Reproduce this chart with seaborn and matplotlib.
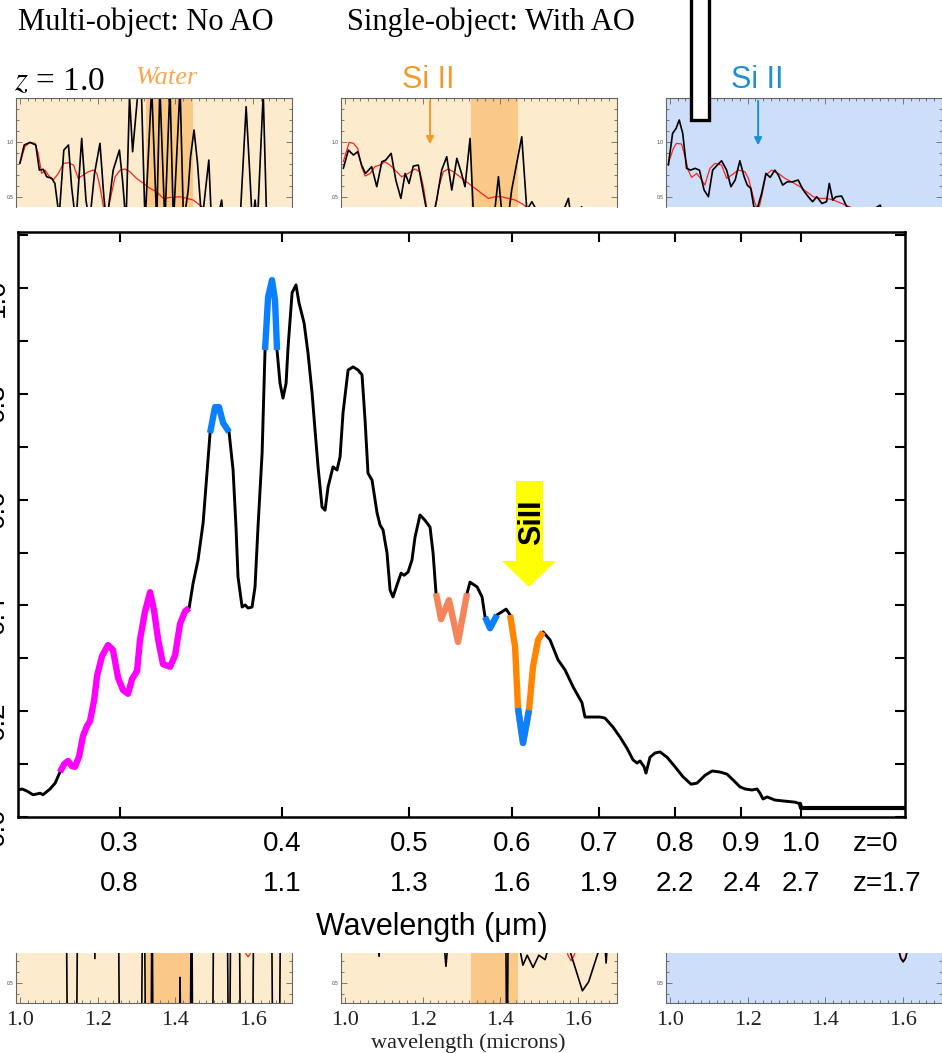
import numpy as np
import matplotlib
matplotlib.use("Agg")
import matplotlib.pyplot as plt
import seaborn as sns
from matplotlib.patches import Polygon, Rectangle
from matplotlib.ticker import FixedLocator, NullLocator, MultipleLocator

# ---------------- main spectrum (rest wavelength, microns) ----------------
wavelength = [0.2507, 0.2525, 0.2547, 0.2575, 0.2607, 0.2620, 0.2653, 0.2677, 0.2700, 0.2720,
              0.2739, 0.2758, 0.2773, 0.2793, 0.2812, 0.2832, 0.2847, 0.2868, 0.2883, 0.2908,
              0.2939, 0.2965, 0.2992, 0.3018, 0.3045, 0.3067, 0.3094, 0.3110, 0.3138, 0.3166,
              0.3188, 0.3211, 0.3239, 0.3280, 0.3309, 0.3338, 0.3368, 0.3392, 0.3416, 0.3446,
              0.3477, 0.3501, 0.3520, 0.3551, 0.3576, 0.3602, 0.3640, 0.3666, 0.3685, 0.3698,
              0.3725, 0.3745, 0.3764, 0.3791, 0.3811, 0.3831, 0.3859, 0.3879, 0.3900, 0.3927,
              0.3948, 0.3962, 0.3983, 0.4004, 0.4026, 0.4040, 0.4069, 0.4097, 0.4119, 0.4156,
              0.4185, 0.4215, 0.4237, 0.4260, 0.4290, 0.4313, 0.4336, 0.4374, 0.4405, 0.4429,
              0.4452, 0.4492, 0.4532, 0.4572, 0.4604, 0.4629, 0.4653, 0.4686, 0.4728, 0.4753,
              0.4778, 0.4812, 0.4838, 0.4863, 0.4898, 0.4933, 0.4959, 0.4994, 0.5029, 0.5056,
              0.5101, 0.5146, 0.5192, 0.5220, 0.5247, 0.5294, 0.5369, 0.5455, 0.5543, 0.5572,
              0.5642, 0.5692, 0.5722, 0.5773, 0.5844, 0.5896, 0.5939, 0.5981, 0.6034, 0.6065,
              0.6119, 0.6184, 0.6228, 0.6284, 0.6339, 0.6418, 0.6510, 0.6591, 0.6685, 0.6791,
              0.6827, 0.6912, 0.7011, 0.7073, 0.7173, 0.7263, 0.7353, 0.7432, 0.7485, 0.7524,
              0.7578, 0.7604, 0.7658, 0.7726, 0.7795, 0.7892, 0.8004, 0.8118, 0.8234, 0.8321,
              0.8442, 0.8547, 0.8667, 0.8775, 0.8869, 0.8978, 0.9058, 0.9171, 0.9253, 0.9301,
              0.9351, 0.9418, 0.9551, 0.9721, 0.9895, 0.9982]
flux = [0.051, 0.053, 0.049, 0.042, 0.045, 0.042, 0.053, 0.064, 0.085, 0.100,
        0.106, 0.096, 0.095, 0.115, 0.153, 0.172, 0.181, 0.221, 0.267, 0.304,
        0.325, 0.316, 0.263, 0.240, 0.233, 0.261, 0.276, 0.335, 0.389, 0.425,
        0.391, 0.336, 0.289, 0.284, 0.306, 0.365, 0.389, 0.395, 0.442, 0.486,
        0.556, 0.650, 0.726, 0.775, 0.775, 0.745, 0.728, 0.656, 0.548, 0.454,
        0.397, 0.401, 0.395, 0.397, 0.435, 0.548, 0.688, 0.883, 0.983, 1.015,
        0.977, 0.883, 0.820, 0.792, 0.820, 0.888, 0.991, 1.006, 0.972, 0.934,
        0.877, 0.802, 0.732, 0.662, 0.586, 0.580, 0.624, 0.662, 0.656, 0.681,
        0.764, 0.845, 0.851, 0.845, 0.836, 0.750, 0.650, 0.637, 0.575, 0.552,
        0.543, 0.499, 0.429, 0.416, 0.439, 0.461, 0.457, 0.463, 0.486, 0.529,
        0.571, 0.561, 0.548, 0.499, 0.423, 0.374, 0.410, 0.331, 0.423, 0.444,
        0.435, 0.416, 0.378, 0.357, 0.382, 0.388, 0.393, 0.382, 0.321, 0.206,
        0.140, 0.202, 0.284, 0.335, 0.350, 0.335, 0.297, 0.278, 0.246, 0.216,
        0.189, 0.189, 0.189, 0.187, 0.170, 0.151, 0.130, 0.108, 0.102, 0.106,
        0.095, 0.083, 0.113, 0.121, 0.123, 0.113, 0.095, 0.076, 0.062, 0.064,
        0.079, 0.087, 0.085, 0.081, 0.070, 0.057, 0.053, 0.051, 0.053, 0.045,
        0.034, 0.038, 0.032, 0.030, 0.028, 0.025]
tail_wavelength = [0.9982, 1.0, 1.21]
tail_flux = [0.025, 0.017, 0.017]

# highlighted features: (start, end, colour)
seg_start = [0.2700, 0.3520, 0.3879, 0.5247, 0.5722, 0.5981, 0.6065]
seg_end = [0.3392, 0.3640, 0.3962, 0.5543, 0.5844, 0.6339, 0.6184]
seg_color = ["#FF00FF", "#0A80FF", "#0A80FF", "#F5845A", "#0A80FF", "#FF8400", "#0A80FF"]

xtick_rest = [0.3, 0.4, 0.5, 0.6, 0.7, 0.8, 0.9, 1.0]
xtick_z17 = ["0.8", "1.1", "1.3", "1.6", "1.9", "2.2", "2.4", "2.7"]
ytick_vals = [0.0, 0.1, 0.2, 0.3, 0.4, 0.5, 0.6, 0.7, 0.8, 0.9, 1.0, 1.1]
ytick_labels = ["0.0", "", "0.2", "", "0.4", "", "0.6", "", "0.8", "", "1.0", ""]

# ---------------- inset spectra (observed wavelength, microns) ----------------
p1_black_wl = [1.000, 1.011, 1.026, 1.041, 1.050, 1.060, 1.069, 1.082, 1.090, 1.101,
               1.113, 1.125, 1.133, 1.144, 1.159, 1.170, 1.179, 1.192, 1.206, 1.216,
               1.223, 1.240, 1.256, 1.264, 1.273, 1.282, 1.290, 1.298, 1.305, 1.313,
               1.322, 1.339, 1.352, 1.360, 1.373, 1.386, 1.395, 1.412, 1.421, 1.433,
               1.439, 1.448, 1.457, 1.468, 1.486, 1.493, 1.506, 1.519, 1.525, 1.549,
               1.566, 1.582, 1.590, 1.598, 1.605, 1.611, 1.626, 1.635, 1.661, 1.695]
p1_black = [0.806, 0.973, 0.997, 0.973, 0.745, 0.752, 0.685, 0.670, 0.624, 0.321,
            0.927, 0.973, 0.594, 0.261, 1.033, 0.473, 0.261, 0.715, 0.988, 0.503,
            0.261, 0.745, 0.927, 0.655, 0.261, 1.412, 0.912, 1.230, 1.503, 1.412,
            0.261, 1.503, 0.261, 1.503, 0.261, 1.503, 0.261, 1.503, 0.261, 0.564,
            0.867, 1.109, 0.806, 0.261, 0.836, 0.261, 0.261, 0.473, 0.261, 0.200,
            0.261, 1.321, 0.806, 0.261, 0.473, 0.261, 1.442, 0.261, 0.200, 0.200]
p1_red_wl = [1.000, 1.013, 1.026, 1.039, 1.047, 1.056, 1.065, 1.073, 1.086, 1.099,
             1.112, 1.125, 1.138, 1.150, 1.163, 1.176, 1.189, 1.198, 1.206, 1.215,
             1.223, 1.232, 1.245, 1.258, 1.270, 1.283, 1.300, 1.318, 1.335, 1.352,
             1.369, 1.386, 1.412, 1.429, 1.446, 1.463, 1.481]
p1_red = [0.806, 0.958, 0.997, 0.988, 0.897, 0.715, 0.745, 0.700, 0.655, 0.715,
          0.806, 0.812, 0.791, 0.670, 0.700, 0.730, 0.745, 0.715, 0.594, 0.412,
          0.321, 0.473, 0.685, 0.745, 0.755, 0.730, 0.670, 0.624, 0.579, 0.548,
          0.488, 0.497, 0.503, 0.488, 0.473, 0.427, 0.382]

p2_black_wl = [0.996, 1.009, 1.022, 1.033, 1.043, 1.053, 1.069, 1.082, 1.095, 1.105,
               1.119, 1.131, 1.144, 1.155, 1.165, 1.176, 1.189, 1.199, 1.210, 1.223,
               1.236, 1.249, 1.262, 1.275, 1.288, 1.300, 1.309, 1.322, 1.330, 1.343,
               1.356, 1.369, 1.382, 1.395, 1.403, 1.416, 1.429, 1.442, 1.455, 1.468,
               1.481, 1.493, 1.523, 1.541, 1.549, 1.575, 1.584, 1.609, 1.617, 1.660]
p2_black = [0.761, 0.927, 0.882, 0.912, 0.791, 0.715, 0.776, 0.594, 0.821, 0.836,
            0.897, 0.655, 0.488, 0.715, 0.624, 0.782, 0.791, 0.594, 0.382, 0.261,
            0.473, 0.745, 0.867, 0.564, 0.852, 0.715, 0.594, 1.033, 0.382, 0.261,
            0.382, 0.200, 0.261, 0.685, 0.382, 0.200, 0.564, 0.806, 1.048, 0.382,
            0.458, 0.382, 0.261, 0.397, 0.261, 0.488, 0.261, 0.412, 0.261, 0.200]
p2_red_wl = [0.996, 1.011, 1.022, 1.033, 1.043, 1.052, 1.065, 1.077, 1.090, 1.103,
             1.116, 1.129, 1.146, 1.163, 1.180, 1.193, 1.202, 1.210, 1.219, 1.232,
             1.242, 1.253, 1.266, 1.279, 1.296, 1.318, 1.335, 1.352, 1.369, 1.386,
             1.403, 1.421, 1.438, 1.455, 1.472, 1.506]
p2_red = [0.821, 0.997, 0.988, 0.942, 0.776, 0.691, 0.715, 0.776, 0.791, 0.821,
          0.791, 0.745, 0.685, 0.715, 0.755, 0.730, 0.594, 0.412, 0.291, 0.382,
          0.594, 0.730, 0.755, 0.730, 0.685, 0.624, 0.579, 0.533, 0.488, 0.503,
          0.503, 0.488, 0.473, 0.442, 0.397, 0.321]

p3_black_wl = [0.996, 1.007, 1.016, 1.024, 1.033, 1.043, 1.053, 1.065, 1.076, 1.088,
               1.099, 1.110, 1.122, 1.133, 1.146, 1.157, 1.168, 1.180, 1.191, 1.199,
               1.208, 1.216, 1.225, 1.236, 1.247, 1.258, 1.270, 1.279, 1.290, 1.302,
               1.316, 1.330, 1.343, 1.356, 1.367, 1.378, 1.391, 1.403, 1.410, 1.419,
               1.427, 1.442, 1.455, 1.472, 1.506, 1.541, 1.545, 1.575]
p3_black = [0.791, 1.079, 1.124, 1.200, 1.079, 0.761, 0.745, 0.761, 0.745, 0.564,
            0.503, 0.745, 0.791, 0.830, 0.745, 0.594, 0.655, 0.830, 0.685, 0.609,
            0.579, 0.412, 0.397, 0.533, 0.715, 0.679, 0.745, 0.700, 0.609, 0.639,
            0.639, 0.655, 0.564, 0.503, 0.458, 0.503, 0.442, 0.458, 0.624, 0.473,
            0.503, 0.509, 0.412, 0.382, 0.352, 0.427, 0.382, 0.321]
p3_red_wl = [0.996, 1.009, 1.017, 1.030, 1.039, 1.047, 1.056, 1.069, 1.082, 1.090,
             1.103, 1.116, 1.133, 1.146, 1.159, 1.176, 1.193, 1.202, 1.210, 1.219,
             1.228, 1.236, 1.247, 1.262, 1.279, 1.296, 1.313, 1.335, 1.352, 1.369,
             1.386, 1.403, 1.421, 1.442, 1.463, 1.489]
p3_red = [0.806, 0.942, 0.988, 0.982, 0.867, 0.745, 0.679, 0.715, 0.655, 0.609,
          0.761, 0.806, 0.791, 0.670, 0.700, 0.745, 0.730, 0.670, 0.564, 0.442,
          0.382, 0.503, 0.700, 0.745, 0.715, 0.670, 0.639, 0.594, 0.548, 0.503,
          0.488, 0.488, 0.473, 0.442, 0.412, 0.352]

# lower row of insets
b1_black_wl = [1.000, 1.119, 1.123, 1.145, 1.149, 1.190, 1.193, 1.196, 1.253, 1.257,
               1.312, 1.316, 1.320, 1.324, 1.337, 1.340, 1.343, 1.409, 1.412, 1.415,
               1.438, 1.441, 1.442, 1.445, 1.495, 1.499, 1.533, 1.537, 1.539, 1.543,
               1.564, 1.568, 1.598, 1.602, 1.647, 1.651, 1.667, 1.671, 1.700]
b1_black = [1.5, 1.5, -0.5, -0.5, 1.5, 1.5, 0.72, 1.5, 1.5, -0.5,
            -0.5, 1.5, 1.5, -0.5, -0.5, 1.5, -0.5, -0.5, 0.55, -0.5,
            -0.5, 1.5, 1.5, -0.5, -0.5, 1.5, 1.5, -0.5, -0.5, 1.5,
            1.5, -0.5, -0.5, 1.5, 1.5, -0.5, -0.5, 1.5, 1.5]
b1_red_wl = [1.575, 1.582, 1.587, 1.592, 1.599]
b1_red = [0.85, 0.76, 0.735, 0.76, 0.85]
b2_black_wl = [1.000, 1.084, 1.088, 1.092, 1.254, 1.260, 1.266, 1.413, 1.417, 1.421,
               1.445, 1.458, 1.469, 1.484, 1.499, 1.515, 1.530, 1.569, 1.611, 1.627,
               1.663, 1.668, 1.672, 1.676, 1.700]
b2_black = [0.90, 0.90, 0.74, 0.90, 0.90, 0.65, 0.90, 1.50, -0.5, 1.50,
            0.90, 0.66, 0.75, 0.64, 0.75, 0.71, 0.90, 0.90, 0.43, 0.51,
            0.90, 0.90, 0.68, 0.90, 0.90]
b2_red_wl = [1.565, 1.574, 1.582, 1.590, 1.598]
b2_red = [0.90, 0.75, 0.70, 0.75, 0.90]
b3_black_wl = [1.585, 1.594, 1.600, 1.606, 1.615]
b3_black = [0.85, 0.72, 0.69, 0.72, 0.85]
b3_red_wl = [1.585, 1.594, 1.600, 1.606, 1.615]
b3_red = [0.85, 0.73, 0.70, 0.73, 0.85]

water_band = (1.325, 1.445)
si_line_obs = [1.219, 1.227]

# ---------------- style ----------------
sns.set_theme(style="ticks")
plt.rcParams["font.family"] = ["Liberation Sans", "DejaVu Sans"]
plt.rcParams["mathtext.fontset"] = "stix"
for k in ["text.color", "axes.labelcolor", "xtick.color", "ytick.color"]:
    plt.rcParams[k] = "black"

W, H = 942, 1053
fig = plt.figure(figsize=(W / 100, H / 100), dpi=100)
fig.patch.set_facecolor("white")


def fx(px):
    return px / W


def fy(py):
    return 1 - py / H


BEIGE = "#FDEBCD"
BAND = "#FAC887"
BLUEBG = "#CCDEFA"


def make_inset(left_px, top_px, bottom_px, bg, top_row, band=True):
    a = fig.add_axes([fx(left_px), fy(bottom_px), 276 / W, (bottom_px - top_px) / H])
    a.set_facecolor(bg)
    a.set_xlim(0.99, 1.70)
    if top_row:
        a.set_ylim(0.41, 1.40)
        a.spines["bottom"].set_visible(False)
    else:
        a.set_ylim(0.32, 0.77)
        a.spines["top"].set_visible(False)
    for s in a.spines.values():
        s.set_color("#666666")
        s.set_linewidth(0.8)
    if band:
        a.axvspan(water_band[0], water_band[1], color=BAND, lw=0, zorder=0)
    a.xaxis.set_major_locator(MultipleLocator(0.2))
    a.xaxis.set_minor_locator(MultipleLocator(0.02))
    a.yaxis.set_major_locator(MultipleLocator(0.5))
    a.yaxis.set_minor_locator(MultipleLocator(0.1))
    a.tick_params(which="both", direction="in", color="#666666", width=0.6,
                  left=True, right=True, top=top_row, bottom=not top_row,
                  labelleft=True, labelbottom=not top_row, labeltop=False)
    a.tick_params(which="major", length=4)
    a.tick_params(which="minor", length=2.2)
    a.tick_params(axis="y", labelsize=3.5, pad=2, labelcolor="#444444")
    a.tick_params(axis="x", labelsize=16, pad=6, labelfontfamily="Liberation Serif",
                  labelcolor="#222222")
    a.set_xlabel("")
    a.set_ylabel("")
    return a


def draw_pair(a, wb, fb, wr, fr):
    sns.lineplot(x=wr, y=fr, ax=a, color="#FF2020", lw=0.9, sort=False, estimator=None)
    sns.lineplot(x=wb, y=fb, ax=a, color="black", lw=1.2, sort=False, estimator=None)
    a.set_xlabel("")
    a.set_ylabel("")


# top row of insets
t1 = make_inset(16, 98, 207, BEIGE, True)
draw_pair(t1, p1_black_wl, p1_black, p1_red_wl, p1_red)
t2 = make_inset(341, 98, 207, BEIGE, True)
draw_pair(t2, p2_black_wl, p2_black, p2_red_wl, p2_red)
t3 = make_inset(666, 98, 207, BLUEBG, True, band=False)
draw_pair(t3, p3_black_wl, p3_black, p3_red_wl, p3_red)
t2.annotate("", xy=(si_line_obs[0], 0.955), xytext=(si_line_obs[0], 1.40),
            arrowprops=dict(arrowstyle="-|>", color="#F39A2B", lw=1.4, mutation_scale=11))
t3.annotate("", xy=(si_line_obs[1], 0.945), xytext=(si_line_obs[1], 1.40),
            arrowprops=dict(arrowstyle="-|>", color="#1E8ED8", lw=1.4, mutation_scale=11))

# bottom row of insets
b1 = make_inset(16, 953, 1003, BEIGE, False)
draw_pair(b1, b1_black_wl, b1_black, b1_red_wl, b1_red)
b2 = make_inset(341, 953, 1003, BEIGE, False)
draw_pair(b2, b2_black_wl, b2_black, b2_red_wl, b2_red)
b3 = make_inset(666, 953, 1003, BLUEBG, False, band=False)
draw_pair(b3, b3_black_wl, b3_black, b3_red_wl, b3_red)
b2.set_xlabel("wavelength (microns)", fontsize=16, family="Liberation Serif", color="#222222")
b2.xaxis.set_label_coords((468 - 341) / 276, -0.60)

# ---------------- main panel ----------------
ax = fig.add_axes([fx(18), fy(817), 887 / W, 585 / H])
ax.set_facecolor("white")
ax.set_xscale("log")
wl_arr = np.array(wavelength)
fl_arr = np.array(flux)
sns.lineplot(x=wavelength, y=flux, ax=ax, color="black", lw=2.1, sort=False, estimator=None,
             solid_joinstyle="round")
sns.lineplot(x=tail_wavelength, y=tail_flux, ax=ax, color="black", lw=3.0, sort=False, estimator=None)
for lo, hi, c in zip(seg_start, seg_end, seg_color):
    m = (wl_arr >= lo - 1e-6) & (wl_arr <= hi + 1e-6)
    sns.lineplot(x=wl_arr[m], y=fl_arr[m], ax=ax, color=c, lw=4.6, sort=False,
                 estimator=None, solid_capstyle="butt", solid_joinstyle="round")

ax.set_xlim(0.2507, 1.2017)
ax.set_ylim(0.0, 1.106)
ax.xaxis.set_major_locator(FixedLocator(xtick_rest))
ax.xaxis.set_minor_locator(NullLocator())
ax.set_xticklabels([f"{a:.1f}\n{b}" for a, b in zip(xtick_rest, xtick_z17)])
ax.set_yticks(ytick_vals)
ax.set_yticklabels(ytick_labels)
ax.tick_params(which="major", direction="in", length=7, width=1.5, color="black",
               top=True, right=True, bottom=True, left=True, labelsize=20,
               labelcolor="black")
ax.tick_params(axis="x", pad=10)
ax.tick_params(axis="y", pad=6, labelrotation=90)
for lbl in ax.get_xticklabels():
    lbl.set_linespacing(1.72)
for s in ax.spines.values():
    s.set_color("black")
    s.set_linewidth(1.8)
ax.annotate("z=0\nz=1.7", xy=(1.096, 0), xycoords=("data", "axes fraction"),
            xytext=(0, -10), textcoords="offset points", ha="left", va="top",
            fontsize=20, linespacing=1.72, color="black")
ax.set_xlabel("Wavelength (μm)", fontsize=22, color="black")
ax.xaxis.set_label_coords((432 - 18) / 887, (817 - 912) / 585)
ax.set_ylabel("")

# yellow Si II arrow
arrow_px = [(516, 481), (543, 481), (543, 561), (556, 561), (529, 587), (502, 561), (516, 561)]
arrow_ax = [((x - 18) / 887, (817 - y) / 585) for x, y in arrow_px]
ax.add_patch(Polygon(arrow_ax, closed=True, facecolor="#FFFF00", edgecolor="none",
                     transform=ax.transAxes, zorder=5))
ax.text((532 - 18) / 887, (817 - 522) / 585, "SiII", rotation=90, fontsize=22,
        fontweight="bold", ha="center", va="center", transform=ax.transAxes, zorder=6,
        color="black")

# ---------------- slide texts ----------------
serif = ["Liberation Serif", "DejaVu Serif"]
fig.text(fx(18), fy(22), "Multi-object: No AO", fontsize=22, family=serif, ha="left", va="center")
fig.text(fx(347), fy(22), "Single-object: With AO", fontsize=22, family=serif, ha="left", va="center")
fig.text(fx(14), fy(82), "$z$ = 1.0", fontsize=24, family=serif, ha="left", va="center")
fig.text(fx(135), fy(78), "Water", fontsize=19, family=serif, style="italic",
         color="#F8A64F", ha="left", va="center")
fig.text(fx(428), fy(80), "Si II", fontsize=22, color="#F39A2B", ha="center", va="center")
fig.text(fx(757), fy(80), "Si II", fontsize=22, color="#1E8ED8", ha="center", va="center")

fig.patches.append(Rectangle((fx(691), fy(120)), 18 / W, 130 / H, transform=fig.transFigure,
                             facecolor="white", edgecolor="black", lw=2.4, zorder=10,
                             figure=fig))

fig.savefig("out.png", dpi=100, facecolor="white")
